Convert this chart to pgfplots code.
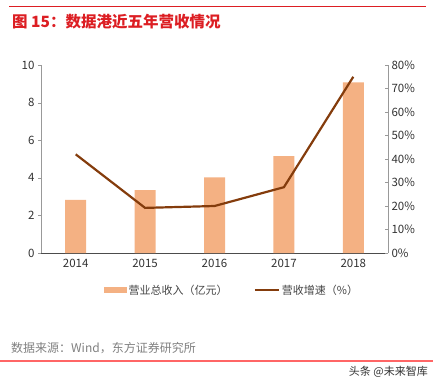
\documentclass[border=0pt]{standalone}
\usepackage{pgfplots}
\pgfplotsset{compat=1.18}
\usepackage{fontspec}
\setmainfont{Noto Sans CJK SC}
\definecolor{barc}{RGB}{244,177,131}
\definecolor{linec}{RGB}{132,60,12}
\definecolor{titlered}{RGB}{220,30,35}
\definecolor{txt}{RGB}{50,50,50}
\begin{document}
\begin{tikzpicture}[x=1pt,y=1pt]
\path[use as bounding box] (0,0) rectangle (438,-381);
\draw[titlered,line width=1pt] (9,-6) -- (426,-6);
\node[anchor=west,text=titlered,font=\fontsize{15.5}{17}\selectfont\bfseries,inner sep=0] at (12,-22) {图 15：数据港近五年营收情况};
\begin{axis}[
  at={(41pt,-253pt)}, anchor=south west, scale only axis,
  width=347pt, height=188pt,
  xmin=-0.5, xmax=4.5, ymin=0, ymax=10,
  axis y line*=left, axis x line*=bottom,
  axis line style={draw=gray!80},
  x axis line style={draw=black!70},
  xtick={0,1,2,3,4}, xticklabels={2014,2015,2016,2017,2018},
  x tick style={draw=none},
  extra x ticks={-0.5,0.5,1.5,2.5,3.5,4.5}, extra x tick labels={},
  extra x tick style={tick style={draw=black!70}, tick align=inside, major tick length=3pt},
  ytick={0,2,...,10},
  y tick style={draw=gray!80}, tick align=outside, major tick length=3pt,
  tick label style={font=\fontsize{11.5}{13}\selectfont, text=txt},
  /pgf/number format/assume math mode=true,
  legend columns=2,
  legend style={draw=none, at={(0.55,-0.197)}, anchor=center, font=\fontsize{11}{13}\selectfont, text=txt!90, /tikz/every even column/.append style={column sep=24pt}},
]
\addplot[fill=barc, draw=none, ybar, bar width=21pt, area legend,
  legend image code/.code={\fill[barc] (0pt,-3pt) rectangle (23pt,3pt);}]
  coordinates {(0,2.82) (1,3.35) (2,4.02) (3,5.15) (4,9.08)};
\addlegendentry{营业总收入（亿元）}
\addlegendimage{legend image code/.code={\draw[linec, line width=2.2pt] (0pt,0pt) -- (24pt,0pt);}}
\addlegendentry{营收增速（\%）}
\end{axis}
\begin{axis}[
  at={(41pt,-253pt)}, anchor=south west, scale only axis,
  width=347pt, height=188pt,
  xmin=-0.5, xmax=4.5, ymin=0, ymax=80,
  axis y line*=right, axis x line=none,
  axis line style={draw=gray!80},
  ytick={0,10,...,80},
  yticklabel={\pgfmathprintnumber{\tick}\%},
  y tick style={draw=gray!80}, tick align=inside, major tick length=3pt,
  tick label style={font=\fontsize{11.5}{13}\selectfont, text=txt},
  /pgf/number format/assume math mode=true,
]
\addplot[linec, line width=2.2pt, mark=none] coordinates {(0,42) (1,19.2) (2,20) (3,28) (4,75)};
\end{axis}
\node[anchor=west,text=gray,font=\fontsize{12}{14}\selectfont,inner sep=0] at (11,-348) {数据来源：Wind，东方证券研究所};
\draw[red!60,line width=1.3pt] (0,-361) -- (433,-361);
\node[anchor=east,text=txt,font=\fontsize{11}{13}\selectfont,inner sep=0] at (428,-372) {头条 @未来智库};
\end{tikzpicture}
\end{document}
